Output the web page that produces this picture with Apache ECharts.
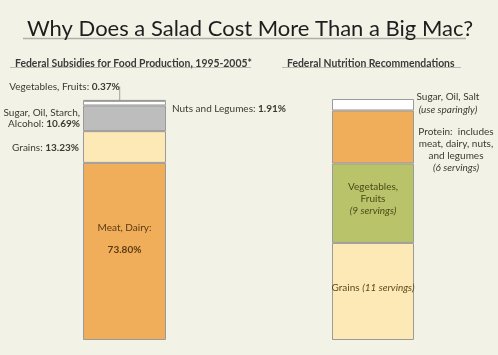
<!DOCTYPE html>
<html><head><meta charset="utf-8">
<script src="https://cdn.jsdelivr.net/npm/echarts@6/dist/echarts.min.js"></script>
<style>html,body{margin:0;padding:0;background:#f3f2e6}#c{width:498px;height:355px}</style>
</head><body><div id="c"></div>
<script>
// Left chart: federal subsidies (percent), bottom to top
const subsidyCategories = ['Meat, Dairy', 'Grains', 'Sugar, Oil, Starch, Alcohol', 'Nuts and Legumes', 'Vegetables, Fruits'];
const subsidyValues = [73.80, 13.23, 10.69, 1.91, 0.37];
// Right chart: nutrition recommendations (servings), bottom to top
const recCategories = ['Grains', 'Vegetables, Fruits', 'Protein', 'Sugar, Oil, Salt'];
const recValues = [11, 9, 6, 1.3];

const font = 'Lato';
const fs = 10;
const txt = '#3d3a30';
const border = '#9a9a9a';
const subColors = ['#f0ad5a', '#fde9b5', '#bdbdbd', '#ffffff', '#ffffff'];
const recColors = ['#fde9b5', '#b9c46a', '#f0ad5a', '#ffffff'];

const baseRich = {
  n: {fontFamily: font, fontSize: fs, color: txt, lineHeight: 11},
  b: {fontFamily: font, fontSize: fs, color: txt, fontWeight: 'bold', lineHeight: 11},
  i: {fontFamily: font, fontSize: fs, color: txt, fontStyle: 'italic', lineHeight: 12}
};

const subLabels = [
  {show: true, position: 'inside', offset: [0, -13], formatter: '{n|Meat, Dairy:}\n\n{b|73.80%}',
   rich: {n: {fontFamily: font, fontSize: fs, color: '#5a3c14', lineHeight: 10}, b: {fontFamily: font, fontSize: fs, fontWeight: 'bold', color: '#5a3c14', lineHeight: 10}}},
  {show: true, position: 'left', distance: 4, offset: [0, 1], formatter: '{n|Grains: }{b|13.23%}', rich: baseRich},
  {show: true, position: 'left', distance: 3, align: 'right', formatter: '{n|Sugar, Oil, Starch,}\n{n|Alcohol: }{b|10.69%}', rich: baseRich},
  {show: true, position: 'right', distance: 6, offset: [0, 6], formatter: '{n|Nuts and Legumes: }{b|1.91%}', rich: baseRich},
  {show: true, position: 'top', distance: 5, formatter: '{n|Vegetables, Fruits: }{b|0.37%}', rich: baseRich}
];
const recLabels = [
  {show: true, position: 'inside', offset: [0, -4], formatter: '{n|Grains }{i|(11 servings)}',
   rich: {n: {fontFamily: font, fontSize: fs, color: '#5a4a20'}, i: {fontFamily: font, fontSize: fs, fontStyle: 'italic', color: '#5a4a20'}}},
  {show: true, position: 'inside', offset: [0, -4], align: 'center', formatter: '{n|Vegetables,}\n{n|Fruits}\n{i|(9 servings)}',
   rich: {n: {fontFamily: font, fontSize: fs, color: '#4a4a18', lineHeight: 12, align: 'center'}, i: {fontFamily: font, fontSize: fs, fontStyle: 'italic', color: '#4a4a18', lineHeight: 13, align: 'center'}}},
  {show: true, position: 'right', distance: 0, align: 'center', offset: [42, 13],
   formatter: '{n|Protein:  includes}\n{n|meat, dairy, nuts,}\n{n|and legumes}\n{i|(6 servings)}',
   rich: {n: {fontFamily: font, fontSize: fs, color: txt, lineHeight: 12, align: 'center'}, i: {fontFamily: font, fontSize: fs, fontStyle: 'italic', color: txt, lineHeight: 12, align: 'center'}}},
  {show: true, position: 'right', distance: 0, align: 'center', offset: [34, -1],
   formatter: '{n|Sugar, Oil, Salt}\n{i|(use sparingly)}',
   rich: {n: {fontFamily: font, fontSize: fs, color: txt, lineHeight: 13, align: 'center'}, i: {fontFamily: font, fontSize: fs, fontStyle: 'italic', color: txt, lineHeight: 13, align: 'center'}}}
];

const series = [];
subsidyCategories.forEach((name, i) => {
  const s = {
    name, type: 'bar', stack: 'sub', xAxisIndex: 0, yAxisIndex: 0, barWidth: '100%',
    data: [subsidyValues[i]],
    itemStyle: {color: subColors[i], borderColor: border, borderWidth: 1},
    label: subLabels[i], silent: true
  };
  if (i === 4) {
    s.labelLayout = {dx: -60, dy: -3};
    s.labelLine = {show: true, lineStyle: {color: '#a0a0a0', width: 1}};
  }
  series.push(s);
});
recCategories.forEach((name, i) => {
  series.push({
    name, type: 'bar', stack: 'rec', xAxisIndex: 1, yAxisIndex: 1, barWidth: '100%',
    data: [recValues[i]],
    itemStyle: {color: recColors[i], borderColor: border, borderWidth: 1},
    label: recLabels[i], silent: true
  });
});

const chart = echarts.init(document.getElementById('c'));
chart.setOption({
  backgroundColor: '#f3f2e6',
  animation: false,
  title: [
    {text: 'Why Does a Salad Cost More Than a Big Mac?', left: 245, top: 13, textAlign: 'center',
     textStyle: {fontFamily: font, fontSize: 22, fontWeight: 'normal', color: '#1e1e1e'}},
    {text: 'Federal Subsidies for Food Production, 1995-2005*', left: 10, top: 54,
     textStyle: {fontFamily: font, fontSize: 10.4, fontWeight: 'bold', color: '#3a3a3a'}},
    {text: 'Federal Nutrition Recommendations', left: 282, top: 54,
     textStyle: {fontFamily: font, fontSize: 10.4, fontWeight: 'bold', color: '#3a3a3a'}}
  ],
  graphic: [
    {type: 'line', shape: {x1: 23, y1: 38.5, x2: 466, y2: 38.5}, style: {stroke: '#b0b0a8', lineWidth: 1.5}},
    {type: 'line', shape: {x1: 10, y1: 67.5, x2: 251, y2: 67.5}, style: {stroke: '#b8b8b0', lineWidth: 1}},
    {type: 'line', shape: {x1: 282, y1: 67.5, x2: 461, y2: 67.5}, style: {stroke: '#b8b8b0', lineWidth: 1}}
  ],
  grid: [
    {left: 83, top: 100, width: 83, height: 240},
    {left: 332, top: 99, width: 82, height: 241}
  ],
  xAxis: [
    {type: 'category', gridIndex: 0, data: ['Subsidies'], show: false},
    {type: 'category', gridIndex: 1, data: ['Recommendations'], show: false}
  ],
  yAxis: [
    {type: 'value', gridIndex: 0, min: 0, max: subsidyValues.reduce((a, b) => a + b, 0), show: false},
    {type: 'value', gridIndex: 1, min: 0, max: recValues.reduce((a, b) => a + b, 0), show: false}
  ],
  series
});
</script></body></html>
